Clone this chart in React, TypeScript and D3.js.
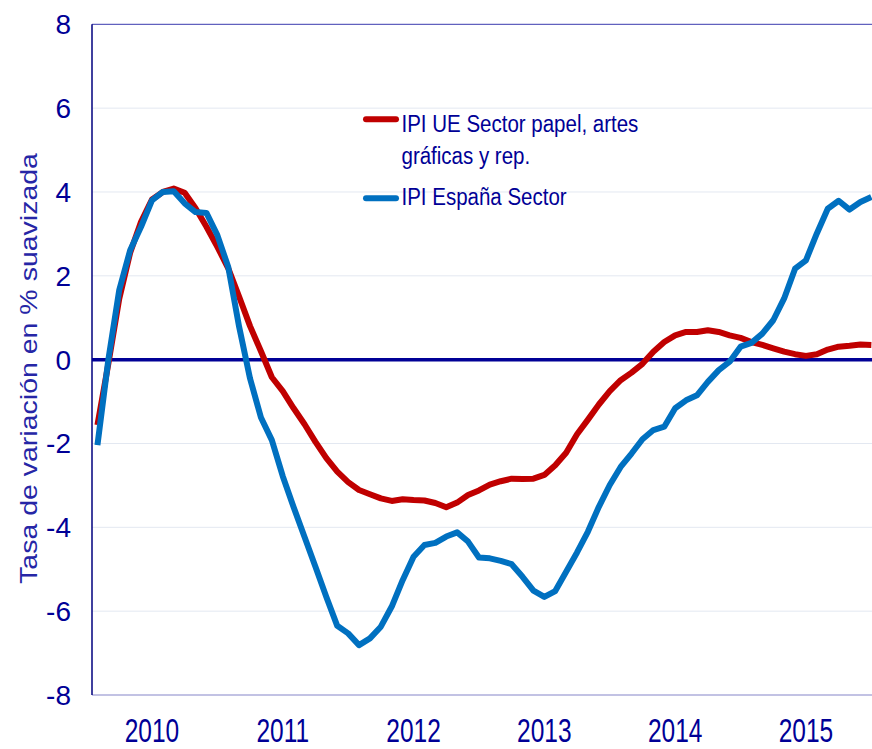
import React from "react";
import * as d3 from "d3";

const months: string[] = d3.range(72).map((i) => `${2010 + Math.floor(i / 12)}-${String((i % 12) + 1).padStart(2, "0")}`);
const yearLabels = ["2010", "2011", "2012", "2013", "2014", "2015"];
const yTicks = [8, 6, 4, 2, 0, -2, -4, -6, -8];

const ueSeries = [
  -1.56, -0.1, 1.45, 2.55, 3.29, 3.82, 4.0, 4.08, 3.98, 3.61, 3.17, 2.69,
  2.18, 1.5, 0.8, 0.2, -0.42, -0.75, -1.16, -1.54, -1.96, -2.35, -2.67, -2.92,
  -3.11, -3.21, -3.31, -3.37, -3.33, -3.35, -3.36, -3.42, -3.52, -3.41, -3.23, -3.12,
  -2.98, -2.9, -2.84, -2.85, -2.84, -2.75, -2.52, -2.22, -1.78, -1.43, -1.07, -0.75,
  -0.49, -0.31, -0.1, 0.19, 0.42, 0.58, 0.66, 0.66, 0.7, 0.66, 0.58, 0.52,
  0.42, 0.35, 0.27, 0.19, 0.13, 0.09, 0.13, 0.24, 0.31, 0.33, 0.36, 0.35,
];

const esSeries = [
  -2.04, 0.0, 1.66, 2.61, 3.17, 3.8, 4.0, 4.02, 3.73, 3.52, 3.5, 2.97,
  2.21, 0.78, -0.45, -1.38, -1.92, -2.78, -3.52, -4.23, -4.94, -5.66, -6.35, -6.53,
  -6.81, -6.65, -6.37, -5.89, -5.26, -4.7, -4.42, -4.37, -4.22, -4.12, -4.34, -4.72,
  -4.74, -4.8, -4.88, -5.18, -5.51, -5.66, -5.52, -5.06, -4.6, -4.1, -3.51, -2.99,
  -2.56, -2.24, -1.9, -1.68, -1.6, -1.16, -0.97, -0.85, -0.53, -0.25, -0.05, 0.31,
  0.4, 0.62, 0.94, 1.46, 2.17, 2.37, 3.01, 3.6, 3.79, 3.58, 3.76, 3.88,
];

const legendUE = ["IPI UE Sector papel, artes", "gráficas y rep."];
const legendES = "IPI España Sector";
const yTitle = "Tasa de variación en % suavizada";

const W = 872;
const H = 749;
const left = 92;
const top = 24.3;
const bottom = 695;
const step = 10.9;

export default function App() {
  React.useEffect(() => {
    document.body.style.margin = "0";
  }, []);

  const x = d3
    .scaleBand<string>()
    .domain(months)
    .range([left, left + months.length * step]);
  const xc = (i: number) => (x(months[i]) as number) + x.bandwidth() / 2;
  const y = d3.scaleLinear().domain([-8, 8]).range([bottom, top]);

  const line = d3
    .line<number>()
    .x((_, i) => xc(i))
    .y((d) => y(d));

  const font = "'Liberation Sans', Arial, sans-serif";
  const navy = "#000096";

  return (
    <svg width={W} height={H} style={{ position: "absolute", left: 0, top: 0, background: "#fff" }} fontFamily={font}>
      <defs>
        <clipPath id="plot">
          <rect x={left} y={0} width={W - left} height={H} />
        </clipPath>
      </defs>
      {/* grid */}
      {yTicks
        .filter((t) => t !== 8 && t !== -8 && t !== 0)
        .map((t) => (
          <line key={t} x1={left} x2={W} y1={y(t)} y2={y(t)} stroke="#e3e8f1" strokeWidth={1} />
        ))}
      <line x1={left} x2={W} y1={y(8)} y2={y(8)} stroke="#3a3aae" strokeWidth={1} />
      <line x1={left} x2={W} y1={y(-8)} y2={y(-8)} stroke="#8585c8" strokeWidth={1} />
      <line x1={left} x2={left} y1={y(8)} y2={y(-8)} stroke="#00007e" strokeWidth={1.5} />
      <line x1={left} x2={W} y1={y(0)} y2={y(0)} stroke="#000096" strokeWidth={3.5} />

      {/* y tick labels */}
      {yTicks.map((t) => (
        <text key={t} x={71} y={y(t) + 10} textAnchor="end" fontSize={28} fill={navy}>
          {t}
        </text>
      ))}

      {/* x labels */}
      {yearLabels.map((lab, k) => (
        <text
          key={lab}
          transform={`translate(${xc(12 * k + 5)},741.5) scale(1,1.37)`}
          textAnchor="middle"
          fontSize={24.5}
          fill={navy}
        >
          {lab}
        </text>
      ))}

      {/* y title */}
      <text
        transform={`translate(37,368.5) rotate(-90) scale(1.24,1)`}
        textAnchor="middle"
        fontSize={23}
        fill="#2626a6"
      >
        {yTitle}
      </text>

      {/* series */}
      <g clipPath="url(#plot)">
        <path d={line(ueSeries) || ""} fill="none" stroke="#c00000" strokeWidth={6} strokeLinejoin="round" />
        <path d={line(esSeries) || ""} fill="none" stroke="#0070c0" strokeWidth={6} strokeLinejoin="round" />
      </g>

      {/* legend */}
      <line x1={366} x2={396} y1={119.3} y2={119.3} stroke="#c00000" strokeWidth={6} strokeLinecap="round" />
      <line x1={366} x2={396} y1={198.3} y2={198.3} stroke="#0070c0" strokeWidth={6} strokeLinecap="round" />
      <text transform="translate(401.5,131.7) scale(1,1.14)" fontSize={20.5} fill={navy}>
        {legendUE[0]}
      </text>
      <text transform="translate(401.5,164) scale(1,1.14)" fontSize={20.5} fill={navy}>
        {legendUE[1]}
      </text>
      <text transform="translate(401.5,205) scale(1,1.14)" fontSize={20.5} fill={navy}>
        {legendES}
      </text>
    </svg>
  );
}
